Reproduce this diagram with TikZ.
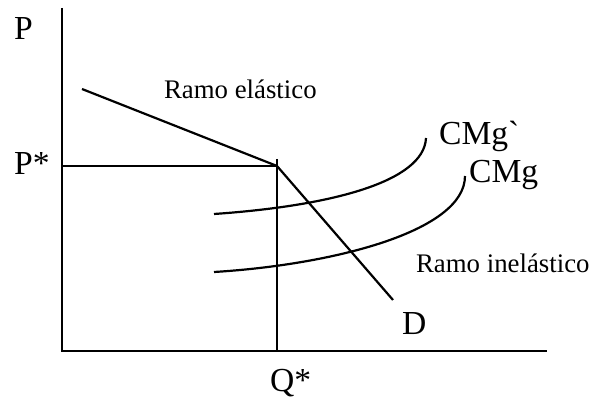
\documentclass[tikz,border=0pt]{standalone}
\usepackage{fontspec}
\setmainfont{Liberation Serif}[Ligatures=TeXOff]
\begin{document}
\begin{tikzpicture}[x=0.5pt,y=-0.5pt,line width=1.1pt]
\tikzset{big/.style={font=\fontsize{16.8}{20}\selectfont,inner sep=0pt,anchor=base west},
  small/.style={font=\fontsize{13.4}{16}\selectfont,inner sep=0pt,anchor=base west}}
\useasboundingbox (0,0) rectangle (590,400);

\coordinate (O) at (62,351);
\coordinate (ytop) at (62,8);
\coordinate (xend) at (547,351);
\coordinate (pstar) at (62,166);
\coordinate (E) at (277,166);
\coordinate (qtop) at (277,159);
\coordinate (qbot) at (277,351);
\coordinate (d0) at (82,89);
\coordinate (d1) at (393,300);
\coordinate (cmgA0) at (214,214);
\coordinate (cmgA1) at (426,138);
\coordinate (cmg0) at (214,272);
\coordinate (cmg1) at (465,176);

\draw (ytop)--(O)--(xend);
\draw (pstar)--(E);
\draw (qtop)--(qbot);
\draw (d0)--(E)--(d1);
\draw (cmgA0) .. controls (330,206) and (424,182) .. (cmgA1);
\draw (cmg0) .. controls (330,265) and (465,232) .. (cmg1);

\node[big] (p) at (13,40) {P};
\node[big] (ps) at (13,175) {P*};
\node[big] (qs) at (269,392) {Q*};
\node[big] (d) at (401,335) {D};
\node[big] (cmga) at (438,145) {CMg`};
\node[big] (cmg) at (468,183) {CMg};
\node[small] (el) at (163,99) {Ramo elástico};
\node[small] (inel) at (415,273) {Ramo inelástico};
\end{tikzpicture}
\end{document}
